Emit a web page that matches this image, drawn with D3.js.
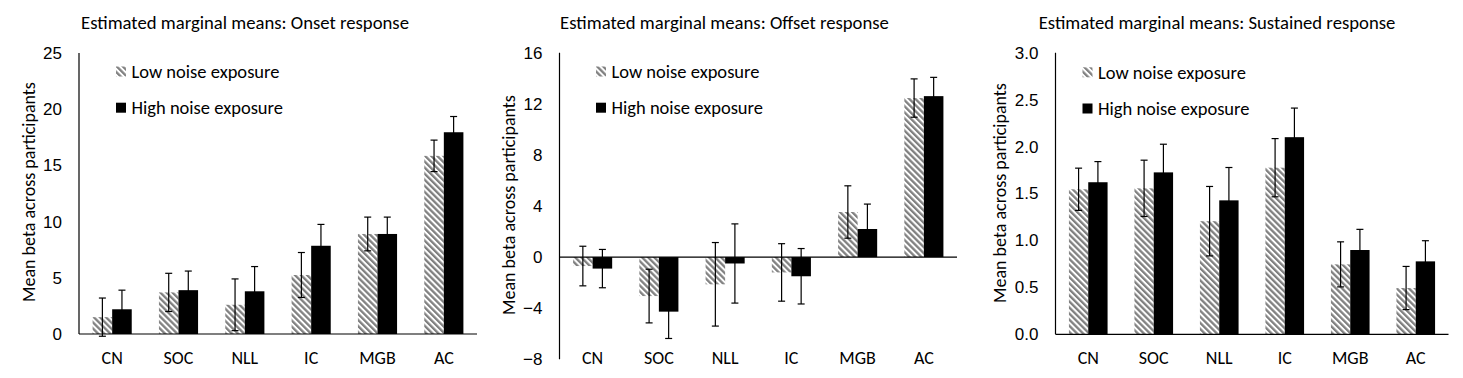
<!DOCTYPE html>
<html>
<head>
<meta charset="utf-8">
<script src="https://cdn.jsdelivr.net/npm/d3@7"></script>
<style>
  html, body { margin: 0; padding: 0; background: #fff; }
  svg { display: block; font-family: Carlito, Lato, "Open Sans", sans-serif; }
</style>
</head>
<body>
<svg id="chart" width="1463" height="378"></svg>
<script>
// ---------- data ----------
const categories = ["CN", "SOC", "NLL", "IC", "MGB", "AC"];
const seriesNames = ["Low noise exposure", "High noise exposure"];

const onsetLow  = [1.5, 3.7, 2.6, 5.25, 8.9, 15.85];
const onsetHigh = [2.2, 3.9, 3.8, 7.85, 8.9, 17.95];
const onsetLowErr  = [1.7, 1.7, 2.3, 2.0, 1.5, 1.4];
const onsetHighErr = [1.7, 1.7, 2.2, 1.9, 1.5, 1.4];
const onsetTicks = [0, 5, 10, 15, 20, 25];

const offsetLow  = [-0.7, -3.05, -2.13, -1.2, 3.53, 12.45];
const offsetHigh = [-0.9, -4.27, -0.5, -1.5, 2.2, 12.6];
const offsetLowErr  = [1.55, 2.1, 3.27, 2.25, 2.05, 1.5];
const offsetHighErr = [1.5, 2.1, 3.1, 2.17, 1.95, 1.47];
const offsetTicks = [-8, -4, 0, 4, 8, 12, 16];

const sustLow  = [1.545, 1.555, 1.205, 1.775, 0.745, 0.493];
const sustHigh = [1.62, 1.725, 1.427, 2.1, 0.898, 0.777];
const sustLowErr  = [0.225, 0.3, 0.37, 0.31, 0.24, 0.23];
const sustHighErr = [0.22, 0.3, 0.35, 0.31, 0.22, 0.22];
const sustTicks = [0, 0.5, 1.0, 1.5, 2.0, 2.5, 3.0];

const titles = [
  "Estimated marginal means: Onset response",
  "Estimated marginal means: Offset response",
  "Estimated marginal means: Sustained response"
];
const yLabel = "Mean beta across participants";

// ---------- layout ----------
const panels = [
  { title: titles[0], low: onsetLow, high: onsetHigh, lowErr: onsetLowErr, highErr: onsetHighErr,
    ticks: onsetTicks, fmt: d3.format("d"), domain: [0, 25],
    x0: 79, x1: 477, yTop: 53, yBot: 334, titleX: 245, labelX: 29, labelY: 192,
    legX: 116, legY: [71.5, 107.7] },
  { title: titles[1], low: offsetLow, high: offsetHigh, lowErr: offsetLowErr, highErr: offsetHighErr,
    ticks: offsetTicks, fmt: d3.format("d"), domain: [-8, 16],
    x0: 559.5, x1: 957, yTop: 52.7, yBot: 359.3, titleX: 724.5, labelX: 509, labelY: 205,
    legX: 596, legY: [71.5, 107.7] },
  { title: titles[2], low: sustLow, high: sustHigh, lowErr: sustLowErr, highErr: sustHighErr,
    ticks: sustTicks, fmt: d3.format(".1f"), domain: [0, 3],
    x0: 1055.5, x1: 1448.5, yTop: 52.7, yBot: 334.3, titleX: 1217, labelX: 1000, labelY: 193,
    legX: 1082.5, legY: [72.3, 108.5] }
];

const svg = d3.select("#chart");
const grey = "#808080";

const defs = svg.append("defs");
const pat = defs.append("pattern")
  .attr("id", "hatch")
  .attr("patternUnits", "userSpaceOnUse")
  .attr("width", 4.3).attr("height", 4.3)
  .attr("patternTransform", "rotate(-45)");
pat.append("rect").attr("width", 4.3).attr("height", 4.3).attr("fill", "#fff");
pat.append("rect").attr("width", 2.3).attr("height", 4.3).attr("fill", grey);

panels.forEach(p => {
  const g = svg.append("g");
  const y = d3.scaleLinear().domain(p.domain).range([p.yBot, p.yTop]);
  const x = d3.scaleBand().domain(categories).range([p.x0, p.x1]).paddingInner(0.41).paddingOuter(0.205);
  const xs = d3.scaleBand().domain(["low", "high"]).range([0, x.bandwidth()]);

  // title
  g.append("text").attr("x", p.titleX).attr("y", 22).attr("text-anchor", "middle")
    .attr("dominant-baseline", "central").attr("font-size", 18.7).attr("fill", "#000").text(p.title);

  // y axis label
  g.append("text").attr("transform", `translate(${p.labelX},${p.labelY}) rotate(-90)`)
    .attr("text-anchor", "middle").attr("dominant-baseline", "central")
    .attr("font-size", 18).attr("fill", "#000").text(yLabel);

  // y tick labels
  const yAxis = d3.axisLeft(y).tickValues(p.ticks).tickFormat(p.fmt).tickSize(0).tickPadding(17);
  const ya = g.append("g").attr("transform", `translate(${p.x0},0)`).call(yAxis);
  ya.select(".domain").remove();
  ya.selectAll("text").attr("font-size", 17).attr("font-family", null).attr("fill", "#000");

  // bars
  const rows = categories.map((c, i) => ([
    { c, k: "low", v: p.low[i], e: p.lowErr[i] },
    { c, k: "high", v: p.high[i], e: p.highErr[i] }
  ])).flat();

  g.selectAll("rect.bar").data(rows).join("rect")
    .attr("class", "bar")
    .attr("x", d => x(d.c) + xs(d.k))
    .attr("width", xs.bandwidth())
    .attr("y", d => Math.min(y(d.v), y(0)))
    .attr("height", d => Math.abs(y(d.v) - y(0)))
    .attr("fill", d => d.k === "low" ? "url(#hatch)" : "#000");

  // x axis line at 0
  g.append("line").attr("x1", p.x0).attr("x2", p.x1).attr("y1", y(0)).attr("y2", y(0))
    .attr("stroke", "#000").attr("stroke-width", 1.2);
  // y axis line
  g.append("line").attr("x1", p.x0).attr("x2", p.x0).attr("y1", p.yTop).attr("y2", p.yBot)
    .attr("stroke", "#000").attr("stroke-width", 1.2);

  // error bars
  const eb = g.selectAll("g.err").data(rows).join("g").attr("class", "err")
    .attr("transform", d => `translate(${x(d.c) + xs(d.k) + xs.bandwidth() / 2},0)`);
  eb.append("line").attr("y1", d => y(d.v + d.e)).attr("y2", d => y(d.v - d.e))
    .attr("stroke", "#000").attr("stroke-width", 1.2);
  eb.append("line").attr("x1", -3.5).attr("x2", 3.5).attr("y1", d => y(d.v + d.e)).attr("y2", d => y(d.v + d.e))
    .attr("stroke", "#000").attr("stroke-width", 1.2);
  eb.append("line").attr("x1", -3.5).attr("x2", 3.5).attr("y1", d => y(d.v - d.e)).attr("y2", d => y(d.v - d.e))
    .attr("stroke", "#000").attr("stroke-width", 1.2);

  // category labels
  g.selectAll("text.cat").data(categories).join("text").attr("class", "cat")
    .attr("x", d => x(d) + x.bandwidth() / 2).attr("y", 358)
    .attr("text-anchor", "middle").attr("dominant-baseline", "central")
    .attr("font-size", 18).attr("fill", "#000").text(d => d);

  // legend
  seriesNames.forEach((name, i) => {
    const ly = p.legY[i];
    g.append("rect").attr("x", p.legX).attr("y", ly - 5).attr("width", 10).attr("height", 10)
      .attr("fill", i === 0 ? "url(#hatch)" : "#000");
    g.append("text").attr("x", p.legX + 15.5).attr("y", ly).attr("dominant-baseline", "central")
      .attr("font-size", 18.5).attr("fill", "#000").text(name);
  });
});
</script>
</body>
</html>
